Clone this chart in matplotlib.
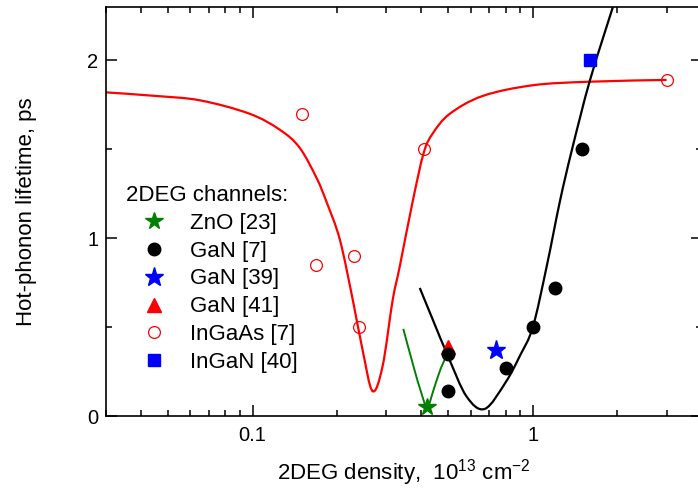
import matplotlib
matplotlib.use("Agg")
import numpy as np
import matplotlib.pyplot as plt
from matplotlib.path import Path
from matplotlib.patches import PathPatch
from matplotlib.ticker import FixedLocator, NullFormatter, LogLocator

plt.rcParams['font.family'] = ['Liberation Sans', 'DejaVu Sans']
plt.rcParams['mathtext.fontset'] = 'custom'
plt.rcParams['mathtext.rm'] = 'Liberation Sans'

# ---- data ----
ingaas_x = [0.15, 0.169, 0.23, 0.239, 0.408, 3.0]
ingaas_y = [1.70, 0.85, 0.90, 0.50, 1.50, 1.89]

gan7_x = [0.5, 0.5, 0.8, 1.0, 1.2, 1.5]
gan7_y = [0.35, 0.14, 0.27, 0.50, 0.72, 1.50]

gan39_x = [0.74]
gan39_y = [0.37]

gan41_x = [0.5]
gan41_y = [0.39]

zno_x = [0.42]
zno_y = [0.05]

ingan_x = [1.6]
ingan_y = [2.0]

# fitted curves
red_x = [0.03, 0.045, 0.065, 0.0975, 0.125, 0.147, 0.169, 0.184, 0.205,
         0.228, 0.247, 0.268, 0.291, 0.316, 0.335, 0.373,
         0.408, 0.44, 0.506, 0.663, 1.0, 1.6, 3.0]
red_y = [1.82, 1.80, 1.775, 1.70, 1.61, 1.51, 1.34, 1.20, 0.99,
         0.65, 0.37, 0.14, 0.28, 0.65, 0.84, 1.21,
         1.48, 1.59, 1.70, 1.80, 1.86, 1.88, 1.89]

black_x = [0.395, 0.44, 0.5, 0.58, 0.674, 0.8, 0.9, 1.0,
           1.12, 1.25, 1.38, 1.6, 1.93]
black_y = [0.72, 0.54, 0.33, 0.11, 0.04, 0.19, 0.34, 0.50,
           0.84, 1.21, 1.50, 1.89, 2.3]

green_x = [0.345, 0.375, 0.40, 0.42, 0.445, 0.47, 0.5]
green_y = [0.49, 0.28, 0.13, 0.05, 0.16, 0.27, 0.36]

labels = ["ZnO [23]", "GaN [7]", "GaN [39]", "GaN [41]", "InGaAs [7]", "InGaN [40]"]


def smooth_path(xs, ys):
    """Catmull-Rom curve through the points, drawn as cubic Bezier segments
    in (log x, y) space."""
    u = np.log10(np.asarray(xs, float))
    v = np.asarray(ys, float)
    P = np.column_stack([u, v])
    P = np.vstack([P[0], P, P[-1]])
    verts = [P[1]]
    codes = [Path.MOVETO]
    for i in range(1, len(P) - 2):
        c1 = P[i] + (P[i + 1] - P[i - 1]) / 6.0
        c2 = P[i + 1] - (P[i + 2] - P[i]) / 6.0
        verts += [c1, c2, P[i + 1]]
        codes += [Path.CURVE4] * 3
    verts = np.array(verts)
    verts[:, 0] = 10 ** verts[:, 0]
    return Path(verts, codes)


# ---- figure ----
fig = plt.figure(figsize=(6.98, 4.92), dpi=100)
ax = fig.add_axes([106/698, 76/492, (701.6-106)/698, (416-7)/492])

for xs, ys, col, lw in [(red_x, red_y, 'red', 1.6), (black_x, black_y, 'black', 1.6),
                        (green_x, green_y, 'green', 1.4)]:
    ax.add_patch(PathPatch(smooth_path(xs, ys), fill=False, edgecolor=col, lw=lw,
                           zorder=2, capstyle='butt'))

h_ingaas, = ax.plot(ingaas_x, ingaas_y, 'o', ms=8.5, mfc='none', mec='red', mew=0.9, zorder=3)
h_gan41, = ax.plot(gan41_x, gan41_y, '^', ms=10, color='red', zorder=3)
h_gan7, = ax.plot(gan7_x, gan7_y, 'o', ms=9, color='black', zorder=4)
h_gan39, = ax.plot(gan39_x, gan39_y, '*', ms=14, color='blue', zorder=4)
h_zno, = ax.plot(zno_x, zno_y, '*', ms=13, color='green', zorder=4)
h_ingan, = ax.plot(ingan_x, ingan_y, 's', ms=8, color='blue', zorder=4)

ax.set_xscale('log')
ax.set_xlim(0.03, 4)
ax.set_ylim(0, 2.3)

ax.xaxis.set_major_locator(FixedLocator([0.1, 1]))
ax.set_xticklabels(['0.1', '1'])
ax.xaxis.set_minor_locator(LogLocator(base=10, subs=[2, 3, 4, 5, 6, 7, 8, 9], numticks=20))
ax.xaxis.set_minor_formatter(NullFormatter())
ax.yaxis.set_major_locator(FixedLocator([0, 1, 2]))
ax.yaxis.set_minor_locator(FixedLocator([0.5, 1.5]))

ax.tick_params(which='both', direction='in', top=True, right=True, width=1.1, labelsize=14.5)
ax.tick_params(axis='x', pad=7)
ax.tick_params(axis='y', pad=5.5)
ax.tick_params(which='major', length=8)
ax.tick_params(which='minor', length=4.5)
for s in ax.spines.values():
    s.set_linewidth(1.2)

ax.set_xlabel(r'2DEG density,  10$^{\mathregular{13}}$ cm$^{\mathregular{-2}}$', fontsize=16, labelpad=9)
ax.set_ylabel('Hot-phonon lifetime, ps', fontsize=16, labelpad=36)

leg = ax.legend([h_zno, h_gan7, h_gan39, h_gan41, h_ingaas, h_ingan], labels,
                title='2DEG channels:', loc='upper left', bbox_to_anchor=(0.012, 0.598),
                frameon=False, fontsize=16, title_fontsize=16, alignment='left',
                handlelength=2.5, handletextpad=0.36, labelspacing=0.31,
                borderaxespad=0.0, borderpad=0.6)

fig.savefig('out.png', dpi=100)
